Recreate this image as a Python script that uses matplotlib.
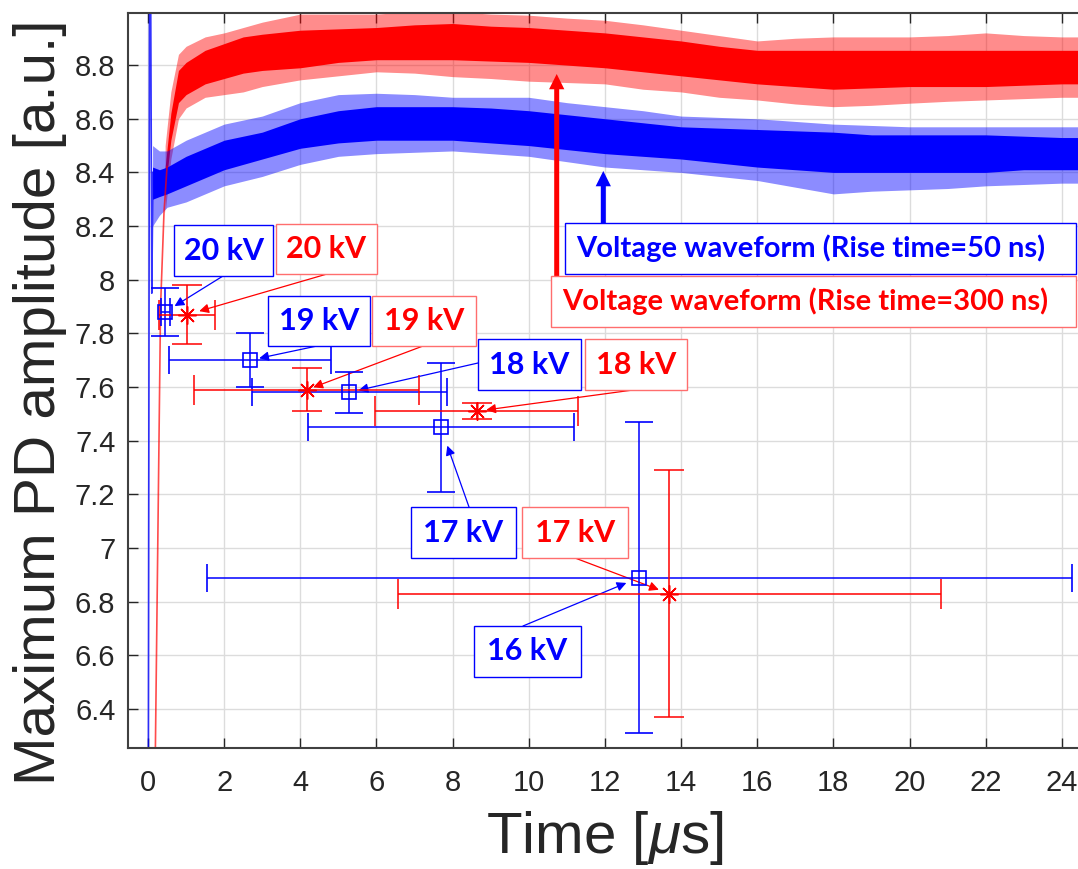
import matplotlib.pyplot as plt
from matplotlib.patches import Rectangle

plt.rcParams['font.family'] = ['Liberation Sans', 'DejaVu Sans']
plt.rcParams['mathtext.fontset'] = 'custom'
plt.rcParams['mathtext.it'] = 'Liberation Sans:italic'
plt.rcParams['mathtext.rm'] = 'Liberation Sans'

W, H = 1078, 869

# ---- waveforms: outer spikes and dense core ----
red_t      = [0.45, 0.6, 0.8, 1.0, 1.5, 2, 2.5, 3, 4, 5, 6, 7, 8, 9, 10, 11, 12,
              13, 14, 15, 16, 17, 18, 19, 20, 21, 22, 23, 24, 24.8]
red_out_lo = [8.25, 8.45, 8.60, 8.64, 8.68, 8.69, 8.70, 8.72, 8.745, 8.76, 8.775, 8.77, 8.757,
              8.75, 8.74, 8.735, 8.73, 8.71, 8.70, 8.68, 8.67, 8.655, 8.645, 8.65, 8.658,
              8.665, 8.67, 8.675, 8.68, 8.68]
red_core_lo = [8.33, 8.52, 8.66, 8.69, 8.73, 8.75, 8.77, 8.78, 8.79, 8.81, 8.82, 8.82, 8.82,
               8.815, 8.81, 8.80, 8.79, 8.775, 8.76, 8.745, 8.73, 8.72, 8.71, 8.715, 8.72,
               8.72, 8.72, 8.725, 8.73, 8.73]
red_core_hi = [8.42, 8.62, 8.78, 8.81, 8.855, 8.88, 8.905, 8.915, 8.93, 8.935, 8.94, 8.95, 8.955,
               8.945, 8.94, 8.93, 8.92, 8.905, 8.89, 8.87, 8.855, 8.855, 8.855, 8.855, 8.855,
               8.855, 8.855, 8.855, 8.855, 8.855]
red_out_hi = [8.50, 8.70, 8.84, 8.87, 8.905, 8.92, 8.94, 8.96, 8.99, 8.99, 8.99, 9.0, 9.0,
              8.99, 8.986, 8.975, 8.967, 8.95, 8.93, 8.91, 8.89, 8.90, 8.905, 8.905, 8.905,
              8.91, 8.92, 8.91, 8.905, 8.905]

blue_t      = [0.12, 0.3, 0.5, 1, 1.5, 2, 3, 4, 5, 6, 7, 8, 9, 10, 11, 12, 13, 14, 15,
               16, 17, 18, 19, 20, 21, 22, 23, 24, 24.8]
blue_out_lo = [8.20, 8.24, 8.27, 8.29, 8.32, 8.35, 8.385, 8.43, 8.46, 8.47, 8.475, 8.48, 8.47,
               8.46, 8.44, 8.42, 8.41, 8.40, 8.385, 8.37, 8.345, 8.32, 8.33, 8.335, 8.34,
               8.35, 8.355, 8.36, 8.36]
blue_core_lo = [8.30, 8.31, 8.32, 8.35, 8.38, 8.41, 8.45, 8.49, 8.51, 8.52, 8.52, 8.52, 8.51,
                8.50, 8.485, 8.47, 8.46, 8.45, 8.435, 8.42, 8.41, 8.40, 8.40, 8.40, 8.40,
                8.40, 8.41, 8.41, 8.41]
blue_core_hi = [8.42, 8.41, 8.42, 8.46, 8.49, 8.52, 8.55, 8.60, 8.63, 8.645, 8.645, 8.645, 8.64,
                8.63, 8.615, 8.60, 8.585, 8.57, 8.565, 8.56, 8.555, 8.55, 8.54, 8.54, 8.54,
                8.54, 8.535, 8.53, 8.53]
blue_out_hi = [8.50, 8.48, 8.48, 8.52, 8.55, 8.58, 8.61, 8.66, 8.69, 8.695, 8.69, 8.68, 8.68,
               8.68, 8.66, 8.645, 8.63, 8.61, 8.605, 8.60, 8.59, 8.58, 8.575, 8.57, 8.57,
               8.57, 8.57, 8.57, 8.57]

# steep start of each trace
red_rise_t = [0.19, 0.33, 0.42, 0.5]
red_rise_v = [6.2, 7.9, 8.25, 8.42]
blue_rise_t = [0.01, 0.04, 0.07, 0.10, 0.13]
blue_rise_v = [6.2, 9.1, 9.1, 7.95, 8.4]

# ---- maximum PD amplitude vs time (mean +- spread) ----
blue_kv = ['20 kV', '19 kV', '18 kV', '17 kV', '16 kV']
blue_pt_t = [0.45, 2.67, 5.28, 7.69, 12.90]
blue_pt_terr = [0.12, 2.13, 2.56, 3.49, 11.36]
blue_amp = [7.88, 7.70, 7.58, 7.45, 6.89]
blue_amp_err = [0.09, 0.10, 0.075, 0.24, 0.58]

red_kv = ['20 kV', '19 kV', '18 kV', '17 kV']
red_pt_t = [1.03, 4.17, 8.63, 13.69]
red_pt_terr = [0.73, 2.96, 2.67, 7.13]
red_amp = [7.87, 7.59, 7.51, 6.83]
red_amp_err = [0.11, 0.08, 0.03, 0.46]

# label boxes (image pixels: x0, y0, x1, y1) and arrow start points
blue_boxes = [(174, 225, 273, 276), (268, 296, 370, 346), (478, 339, 581, 390),
              (411, 507, 516, 558), (474, 626, 581, 677)]
blue_starts = [(223, 276), (317, 346), (478, 363), (469, 507), (523, 626)]
blue_shrink = [8, 7, 7, 14, 10]
red_boxes = [(276, 224, 377, 274), (372, 296, 476, 346), (585, 339, 687, 390),
             (522, 507, 628, 558)]
red_starts = [(327, 274), (423, 346), (633, 390), (575, 558)]
red_shrink = [9, 5, 7, 8]

fig = plt.figure(figsize=(W / 100, H / 100), dpi=100)
ax = fig.add_axes([128 / W, (H - 747.7) / H, (1090 - 128) / W, (747.7 - 13.3) / H])

ax.fill_between(red_t, red_out_lo, red_out_hi, color='red', alpha=0.45, lw=0, zorder=2)
ax.fill_between(red_t, red_core_lo, red_core_hi, color='red', lw=0, zorder=2)
ax.fill_between(blue_t, blue_out_lo, blue_out_hi, color='blue', alpha=0.45, lw=0, zorder=2)
ax.fill_between(blue_t, blue_core_lo, blue_core_hi, color='blue', lw=0, zorder=2)
ax.plot(blue_rise_t, blue_rise_v, color='blue', lw=1.2, alpha=0.8, zorder=2)
ax.plot(red_rise_t, red_rise_v, color='red', lw=1.2, alpha=0.7, zorder=2)

ax.errorbar(blue_pt_t, blue_amp, xerr=blue_pt_terr, yerr=blue_amp_err, fmt='s', ms=10,
            mfc='none', mec='blue', mew=1.2, color='blue', ecolor='blue', elinewidth=1.1,
            capsize=10, capthick=1.1, zorder=4)
ax.errorbar(red_pt_t, red_amp, xerr=red_pt_terr, yerr=red_amp_err, fmt='none',
            ecolor='red', elinewidth=1.1, capsize=11, capthick=1.1, zorder=4)
ax.plot(red_pt_t, red_amp, ls='none', marker=(8, 2, 0), ms=13, mec='red', mew=1.1, zorder=4)

ax.set_xlim(-0.525, 24.74)
ax.set_ylim(6.256, 8.993)
ax.set_xticks(range(0, 25, 2))
ax.set_yticks([6.4 + 0.2 * i for i in range(13)])
ax.set_yticklabels(['%g' % round(6.4 + 0.2 * i, 1) for i in range(13)])
ax.grid(True, color='#dcdcdc', lw=1)
ax.set_axisbelow(True)
ax.tick_params(direction='in', top=True, right=True, length=7, width=1,
               colors='#262626', labelsize=21)
ax.tick_params(axis='x', pad=15)
ax.tick_params(axis='y', pad=9)
for s in ax.spines.values():
    s.set_color('#404040')
    s.set_linewidth(1.5)

fig.text(40 / W, 1 - 402 / H, 'Maximum PD amplitude [a.u.]', rotation=90,
         ha='center', va='center', fontsize=42, color='#262626')
fig.text(605 / W, 1 - 838 / H, r'Time [$\mu$s]', ha='center', va='center',
         fontsize=42, color='#262626')


def label_box(box, text, col, edge, left=False):
    x0, y0, x1, y1 = box
    fig.add_artist(Rectangle((x0 / W, 1 - y1 / H), (x1 - x0) / W, (y1 - y0) / H,
                             transform=fig.transFigure, facecolor='white',
                             edgecolor=edge, lw=1, zorder=5))
    if left:
        fig.text((x0 + 11) / W, 1 - (y0 + y1) / 2 / H, text, ha='left', va='center',
                 color=col, fontsize=21, family='Lato', fontweight='bold', zorder=6)
    else:
        fig.text((x0 + x1) / 2 / W, 1 - (y0 + y1) / 2 / H, text, ha='center',
                 va='center', color=col, fontsize=22, family='Lato',
                 fontweight='bold', zorder=6)


for i, kv in enumerate(blue_kv):
    label_box(blue_boxes[i], kv, 'blue', 'blue')
    sx, sy = blue_starts[i]
    ax.annotate('', xy=(blue_pt_t[i], blue_amp[i]), xycoords='data',
                xytext=(sx, H - sy), textcoords='figure pixels',
                arrowprops=dict(arrowstyle='-|>', color='blue', lw=0.9,
                                shrinkA=0, shrinkB=blue_shrink[i], mutation_scale=14))
for i, kv in enumerate(red_kv):
    label_box(red_boxes[i], kv, 'red', '#ff6e6e')
    sx, sy = red_starts[i]
    ax.annotate('', xy=(red_pt_t[i], red_amp[i]), xycoords='data',
                xytext=(sx, H - sy), textcoords='figure pixels',
                arrowprops=dict(arrowstyle='-|>', color='red', lw=0.9,
                                shrinkA=0, shrinkB=red_shrink[i], mutation_scale=14))

# waveform legends with thick arrows
ax.annotate('', xy=(556.7, H - 74), xycoords='figure pixels', xytext=(556.7, H - 276),
            textcoords='figure pixels',
            arrowprops=dict(arrowstyle='simple,head_width=0.55,head_length=0.55,tail_width=0.18',
                            color='red', lw=0, shrinkA=0, shrinkB=0, mutation_scale=20),
            zorder=5)
ax.annotate('', xy=(603.3, H - 171), xycoords='figure pixels', xytext=(603.3, H - 223),
            textcoords='figure pixels',
            arrowprops=dict(arrowstyle='simple,head_width=0.55,head_length=0.55,tail_width=0.18',
                            color='blue', lw=0, shrinkA=0, shrinkB=0, mutation_scale=20),
            zorder=5)
label_box((565, 223, 1076, 274), 'Voltage waveform (Rise time=50 ns)', 'blue', 'blue', left=True)
label_box((551, 276, 1076, 327), 'Voltage waveform (Rise time=300 ns)', 'red', '#ff6e6e', left=True)

fig.savefig('out.png', dpi=100)
